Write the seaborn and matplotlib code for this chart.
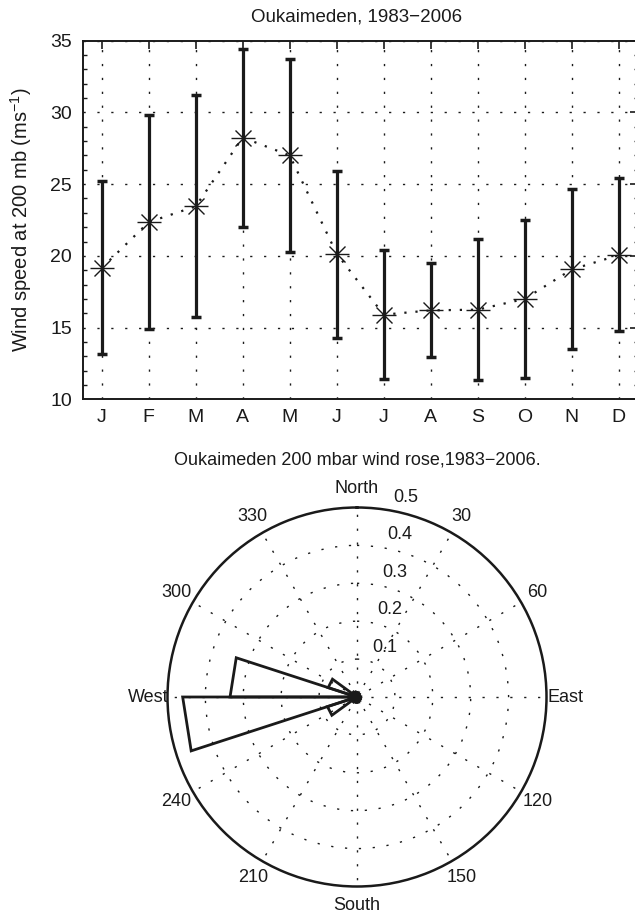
import numpy as np
import pandas as pd
import matplotlib
matplotlib.use("Agg")
import matplotlib.pyplot as plt
import matplotlib.transforms as mtransforms
import seaborn as sns

# ---------------- data ----------------
months = ["J", "F", "M", "A", "M", "J", "J", "A", "S", "O", "N", "D"]
wind_mean = [19.15, 22.35, 23.45, 28.25, 27.0, 20.15, 15.9, 16.2, 16.25, 17.0, 19.05, 20.05]
wind_high = [25.2, 29.8, 31.2, 34.45, 33.75, 25.95, 20.4, 19.5, 21.2, 22.5, 24.65, 25.4]
wind_low = [13.15, 14.9, 15.75, 22.0, 20.25, 14.25, 11.45, 12.95, 11.35, 11.5, 13.5, 14.75]

# wind rose: 20 direction bins of 18 degrees (compass bearing, clockwise from North)
rose_bin_start_deg = list(range(0, 360, 18))
rose_freq = [0.012, 0.010, 0.008, 0.007, 0.008, 0.010, 0.010, 0.010, 0.012, 0.014,
             0.014, 0.014, 0.016, 0.082, 0.460, 0.335, 0.080, 0.016, 0.014, 0.012]
ring_values = [0.1, 0.2, 0.3, 0.4, 0.5]
dir_angles = [0, 30, 60, 90, 120, 150, 180, 210, 240, 270, 300, 330]
dir_labels = ["North", "30", "60", "East", "120", "150", "South", "210", "240", "West", "300", "330"]

# ---------------- style ----------------
sns.set_theme(style="white")
plt.rcParams["font.family"] = ["Liberation Sans", "DejaVu Sans"]
plt.rcParams["mathtext.fontset"] = "custom"
plt.rcParams["mathtext.rm"] = "Liberation Sans"
plt.rcParams["mathtext.it"] = "Liberation Sans"
INK = "#1a1a1a"
GRID_LS = (0, (1.6, 8.4))
W, H = 635, 917
fig = plt.figure(figsize=(W / 100, H / 100), dpi=100)
fig.patch.set_facecolor("white")

# ---------------- top panel ----------------
ax = fig.add_axes([82.9 / W, 1 - 399.3 / H, 554.6 / W, 358.6 / H])
df = pd.DataFrame({"m": np.arange(1, 13), "v": wind_mean})
mean = np.array(wind_mean)
yerr = np.vstack([mean - np.array(wind_low), np.array(wind_high) - mean])

ax.errorbar(df["m"], df["v"], yerr=yerr, fmt="none", ecolor=INK, elinewidth=2.3,
            capsize=3.8, capthick=2.5, zorder=3)
sns.lineplot(data=df, x="m", y="v", ax=ax, color=INK, linewidth=1.6,
             dashes=False, zorder=4)
ax.lines[-1].set_dashes((1, 4))
ax.plot(df["m"], df["v"], linestyle="none", marker="+", markersize=17,
        markeredgewidth=1.0, color=INK, zorder=5)
ax.plot(df["m"], df["v"], linestyle="none", marker="x", markersize=12,
        markeredgewidth=1.0, color=INK, zorder=5)

ax.set_xlim(0.6, 12.4)
ax.set_ylim(10, 35)
ax.set_xticks(np.arange(1, 13))
ax.set_xticklabels(months)
ax.set_yticks([10, 15, 20, 25, 30, 35])
ax.set_yticks(np.arange(10, 36, 1), minor=True)
ax.set_xlabel("")
ax.set_ylabel("")
ax.tick_params(axis="both", which="major", direction="in", length=6, width=1.2,
               color=INK, labelcolor=INK, labelsize=14, top=True, right=True)
ax.tick_params(axis="x", which="major", pad=7)
ax.tick_params(axis="y", which="major", pad=8)
ax.tick_params(axis="y", which="minor", direction="in", length=3, width=1.0,
               color=INK, left=True, right=True)
ax.grid(True, which="major", color=INK, linewidth=1.0, linestyle=GRID_LS)
for s in ax.spines.values():
    s.set_color(INK)
    s.set_linewidth(1.4)
ax.set_axisbelow(True)

fig.text(357 / W, 1 - 16.7 / H, "Oukaimeden, 1983\u22122006", ha="center", va="center",
         fontsize=13.5, color=INK)
fig.text(20.7 / W, 1 - 220 / H, "Wind speed at 200 mb (ms$^{-1}$)", rotation=90,
         ha="center", va="center", fontsize=14.5, color=INK)

# ---------------- wind rose ----------------
cx, cy, R = 357.0, 697.0, 189.5
pax = fig.add_axes([(cx - R) / W, 1 - (cy + R) / H, 2 * R / W, 2 * R / H], projection="polar")
pax.set_theta_zero_location("N")
pax.set_theta_direction(-1)
pax.set_ylim(0, 0.5)
pax.set_xticks(np.deg2rad(dir_angles))
pax.set_xticklabels([])
pax.set_yticks(ring_values[:-1])
pax.set_yticklabels([])
pax.grid(True, color=INK, linewidth=1.0, linestyle=GRID_LS)
pax.spines["polar"].set_color(INK)
pax.spines["polar"].set_linewidth(1.8)
pax.set_facecolor("white")

for start, f in zip(rose_bin_start_deg, rose_freq):
    th = np.deg2rad([start, start, start + 18, start])
    rr = [0, f, f, 0]
    pax.plot(th, rr, color=INK, linewidth=2.0, solid_joinstyle="miter", zorder=5)

for a, lab in zip(dir_angles, dir_labels):
    pax.text(np.deg2rad(a), 0.55, lab, ha="center", va="center", fontsize=13,
             color=INK, clip_on=False)

off = mtransforms.offset_copy(pax.transData, fig=fig, x=22, y=12, units="dots")
for rv in ring_values:
    pax.text(np.deg2rad(8), rv, f"{rv:.1f}", transform=off, ha="center", va="center",
             fontsize=13, color=INK, clip_on=False)

fig.text(357 / W, 1 - 460 / H, "Oukaimeden 200 mbar wind rose,1983\u22122006.",
         ha="center", va="center", fontsize=13, color=INK)

fig.savefig("out.png", dpi=100, facecolor="white")
